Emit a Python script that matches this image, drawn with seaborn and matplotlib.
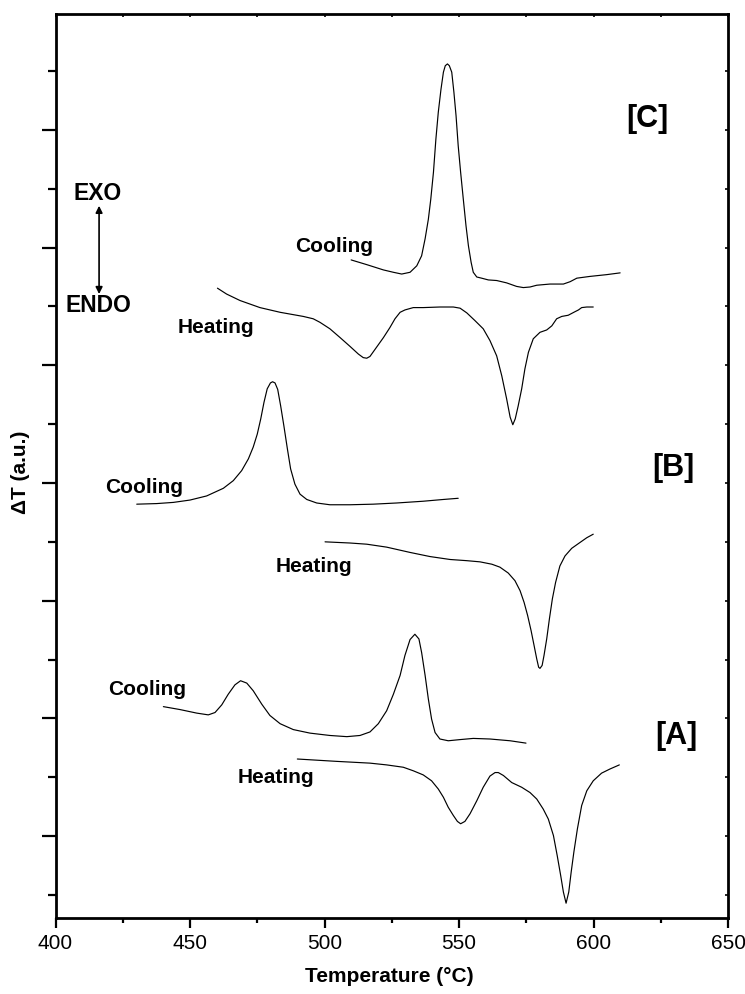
import matplotlib
matplotlib.use("Agg")
import matplotlib.pyplot as plt
from matplotlib.ticker import MultipleLocator
import seaborn as sns
import pandas as pd

# ---------------- data ----------------
# [C] cooling
c_cool_T = [509.9, 515.7, 521.9, 525.6, 528.7, 531.8, 534.3, 536.1, 537.4, 538.6, 539.5,
            540.5, 541.4, 542.3, 543.3, 544.2, 544.9, 545.7, 546.4, 547.3, 548.1, 548.9,
            549.7, 550.6, 551.6, 552.6, 553.5, 554.5, 555.3, 556.6, 558.4, 560.9, 564.0,
            567.7, 571.4, 573.9, 576.4, 578.9, 583.8, 588.8, 591.3, 593.8, 598.7, 604.9, 609.9]
c_cool_Y = [10.79, 10.71, 10.62, 10.58, 10.55, 10.58, 10.69, 10.86, 11.15, 11.48, 11.82,
            12.28, 12.84, 13.30, 13.69, 13.98, 14.09, 14.12, 14.09, 13.98, 13.64, 13.24,
            12.73, 12.28, 11.82, 11.37, 11.03, 10.75, 10.58, 10.50, 10.48, 10.45, 10.44,
            10.40, 10.34, 10.32, 10.33, 10.36, 10.38, 10.38, 10.42, 10.48, 10.51, 10.54, 10.57]
# [C] heating
c_heat_T = [460.2, 463.6, 468.6, 476.0, 483.5, 492.1, 495.8, 498.3, 502.0, 505.8, 509.5,
            512.6, 514.4, 515.7, 516.9, 519.4, 521.9, 524.3, 526.2, 528.1, 529.9, 533.0,
            536.7, 542.9, 547.9, 550.4, 552.9, 555.9, 559.0, 561.5, 564.0, 565.9, 567.7,
            569.0, 570.0, 570.9, 572.0, 573.3, 574.5, 575.8, 577.6, 580.1, 582.6, 584.5,
            586.3, 588.2, 590.6, 593.1, 594.4, 595.6, 597.5, 599.9]
c_heat_Y = [10.31, 10.21, 10.10, 9.98, 9.90, 9.83, 9.79, 9.73, 9.62, 9.47, 9.32,
            9.19, 9.13, 9.12, 9.15, 9.31, 9.47, 9.64, 9.79, 9.90, 9.94, 9.98,
            9.98, 9.99, 9.99, 9.97, 9.89, 9.76, 9.62, 9.42, 9.16, 8.82, 8.43,
            8.12, 7.99, 8.09, 8.31, 8.60, 8.94, 9.22, 9.45, 9.56, 9.60, 9.67,
            9.79, 9.83, 9.85, 9.91, 9.94, 9.98, 9.99, 9.99]
# [B] cooling
b_cool_T = [430.2, 437.6, 443.8, 450.0, 456.2, 462.4, 466.1, 469.2, 471.7, 473.5, 475.0,
            476.3, 477.5, 478.7, 479.9, 480.7, 481.6, 482.6, 483.7, 484.9, 486.2, 487.4,
            489.0, 490.9, 493.4, 497.1, 502.0, 509.5, 518.1, 526.8, 536.7, 544.2, 549.7]
b_cool_Y = [6.64, 6.65, 6.67, 6.71, 6.78, 6.91, 7.04, 7.21, 7.41, 7.61, 7.83,
            8.09, 8.37, 8.60, 8.70, 8.72, 8.70, 8.59, 8.31, 7.97, 7.58, 7.24,
            6.98, 6.81, 6.72, 6.66, 6.63, 6.63, 6.64, 6.66, 6.69, 6.72, 6.74]
# [B] heating
b_heat_T = [500.2, 509.5, 515.7, 523.1, 531.8, 539.2, 546.7, 552.9, 557.8, 562.2, 565.2,
            568.3, 570.8, 572.7, 574.2, 575.5, 576.8, 577.9, 578.9, 579.6, 580.1, 580.9,
            581.6, 582.6, 583.6, 584.7, 585.9, 587.5, 589.4, 591.9, 595.0, 597.5, 599.9]
b_heat_Y = [6.00, 5.98, 5.96, 5.91, 5.82, 5.75, 5.70, 5.68, 5.66, 5.62, 5.57,
            5.47, 5.34, 5.17, 4.97, 4.75, 4.49, 4.24, 4.01, 3.87, 3.85, 3.90,
            4.07, 4.35, 4.69, 5.03, 5.31, 5.59, 5.76, 5.89, 5.99, 6.07, 6.13]
# [A] cooling
a_cool_T = [440.1, 446.3, 452.5, 456.8, 459.3, 461.8, 464.2, 466.7, 468.8, 471.1, 473.5,
            476.7, 479.7, 483.5, 488.4, 494.6, 502.0, 508.3, 513.2, 516.9, 520.0, 523.1,
            525.6, 528.1, 529.9, 531.8, 533.6, 535.1, 536.1, 537.4, 538.6, 539.8, 541.1,
            542.9, 546.0, 550.4, 555.3, 561.5, 569.0, 574.9]
a_cool_Y = [3.20, 3.15, 3.09, 3.06, 3.10, 3.23, 3.41, 3.57, 3.64, 3.60, 3.47,
            3.24, 3.05, 2.91, 2.81, 2.75, 2.71, 2.69, 2.71, 2.77, 2.91, 3.13,
            3.41, 3.73, 4.07, 4.34, 4.43, 4.35, 4.12, 3.73, 3.33, 2.99, 2.76,
            2.65, 2.62, 2.64, 2.66, 2.65, 2.62, 2.58]
# [A] heating
a_heat_T = [489.9, 504.5, 516.9, 523.1, 529.3, 533.0, 536.7, 539.8, 542.3, 544.2, 546.0,
            547.9, 549.4, 550.6, 552.2, 554.1, 556.6, 559.0, 561.5, 563.4, 564.6, 566.5,
            569.6, 573.3, 576.4, 578.9, 581.3, 583.2, 585.1, 586.5, 587.8, 588.8, 589.8,
            590.8, 591.7, 592.7, 594.0, 595.6, 597.5, 599.9, 603.0, 606.1, 609.6]
a_heat_Y = [2.31, 2.27, 2.24, 2.21, 2.17, 2.11, 2.04, 1.94, 1.80, 1.66, 1.49,
            1.35, 1.25, 1.21, 1.25, 1.38, 1.60, 1.83, 2.02, 2.08, 2.08, 2.03,
            1.91, 1.83, 1.74, 1.63, 1.46, 1.29, 1.01, 0.67, 0.33, 0.05, -0.14,
            0.05, 0.39, 0.73, 1.12, 1.52, 1.77, 1.94, 2.07, 2.14, 2.21]

curve_names = ["C cooling", "C heating", "B cooling", "B heating", "A cooling", "A heating"]
curve_T = [c_cool_T, c_heat_T, b_cool_T, b_heat_T, a_cool_T, a_heat_T]
curve_Y = [c_cool_Y, c_heat_Y, b_cool_Y, b_heat_Y, a_cool_Y, a_heat_Y]

x_ticks = [400, 450, 500, 550, 600, 650]

# ---------------- plotting ----------------
sns.set_style("ticks")
plt.rcParams["font.family"] = ["Liberation Sans", "DejaVu Sans"]
plt.rcParams.update({"text.color": "black", "axes.labelcolor": "black",
                     "xtick.color": "black", "ytick.color": "black",
                     "axes.edgecolor": "black"})

fig = plt.figure(figsize=(7.45, 9.95), dpi=100)
ax = fig.add_axes([0.0745, 0.0764, 0.9027, 0.9085])

for name, T, Y in zip(curve_names, curve_T, curve_Y):
    df = pd.DataFrame({"T": T, "dT": Y})
    sns.lineplot(data=df, x="T", y="dT", sort=False, estimator=None,
                 color="black", linewidth=0.85, ax=ax)

ax.set_xlim(400, 650)
ax.set_ylim(-0.391, 14.968)
ax.set_xticks(x_ticks)
ax.set_xticklabels([str(t) for t in x_ticks], fontsize=15)
ax.xaxis.set_minor_locator(MultipleLocator(25))
ax.yaxis.set_major_locator(MultipleLocator(2, offset=1))
ax.yaxis.set_minor_locator(MultipleLocator(1))
ax.tick_params(axis="y", which="major", length=10, width=1.6, direction="out",
               labelleft=False)
ax.tick_params(axis="y", which="minor", length=5.5, width=1.6, direction="out")
ax.tick_params(axis="x", which="major", length=7, width=1.6, direction="out", pad=4)
ax.tick_params(axis="x", which="minor", length=3.6, width=1.6, direction="out")

for s in ax.spines.values():
    s.set_linewidth(2.0)
    s.set_color("black")
    s.set_visible(True)

# tiny inward ticks on top and right spines
top = ax.secondary_xaxis("top")
top.set_xticks(x_ticks)
top.xaxis.set_minor_locator(MultipleLocator(25))
top.tick_params(which="both", direction="in", length=2, width=1.2, labeltop=False)
top.spines["top"].set_visible(False)
right = ax.secondary_yaxis("right")
right.yaxis.set_major_locator(MultipleLocator(2, offset=1))
right.yaxis.set_minor_locator(MultipleLocator(1))
right.tick_params(which="both", direction="in", length=2, width=1.2, labelright=False)
right.spines["right"].set_visible(False)

ax.set_xlabel("Temperature (\u00b0C)", fontsize=15, fontweight="bold")
ax.xaxis.set_label_coords(0.496, -0.053)
ax.set_ylabel("\u0394T (a.u.)", fontsize=15, fontweight="bold")
ax.yaxis.set_label_coords(-0.038, 0.494)

lbl = dict(fontsize=15, fontweight="bold", va="baseline", ha="left")
ax.text(489.0, 10.94, "Cooling", **lbl)
ax.text(445.5, 9.57, "Heating", **lbl)
ax.text(418.4, 6.85, "Cooling", **lbl)
ax.text(482.0, 5.50, "Heating", **lbl)
ax.text(419.5, 3.41, "Cooling", **lbl)
ax.text(467.8, 1.92, "Heating", **lbl)

big = dict(fontsize=22, fontweight="bold", va="center", ha="center")
ax.text(619.9, 13.20, "[C]", **big)
ax.text(629.6, 7.27, "[B]", **big)
ax.text(630.7, 2.72, "[A]", **big)

ax.text(415.5, 11.94, "EXO", fontsize=16.5, fontweight="bold", ha="center", va="center")
ax.text(415.8, 10.04, "ENDO", fontsize=16.5, fontweight="bold", ha="center", va="center")
ax.annotate("", xy=(416.2, 11.71), xytext=(416.2, 10.21),
            arrowprops=dict(arrowstyle="<|-|>", color="black", lw=1.2,
                            mutation_scale=10, shrinkA=0, shrinkB=0))

fig.savefig("out.png", dpi=100)
